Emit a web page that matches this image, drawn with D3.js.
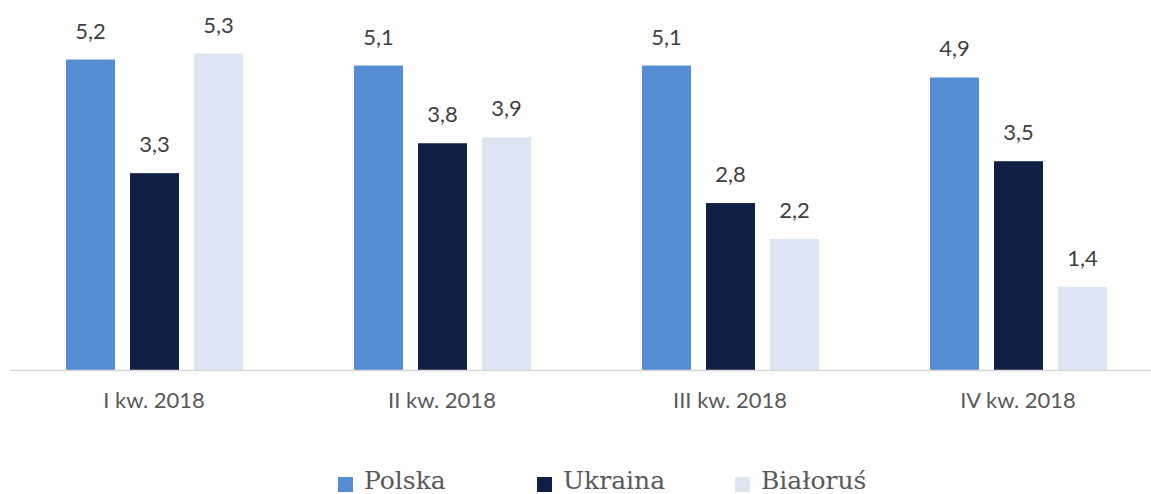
<!DOCTYPE html>
<html>
<head>
<meta charset="utf-8">
<script src="https://cdn.jsdelivr.net/npm/d3@7"></script>
<style>
  html, body { margin: 0; padding: 0; background: #fff; }
  svg { display: block; }
</style>
</head>
<body>
<svg id="chart" width="1151" height="494"></svg>
<script>
const categories = ["I kw. 2018", "II kw. 2018", "III kw. 2018", "IV kw. 2018"];
const seriesNames = ["Polska", "Ukraina", "Białoruś"];
const polska = [5.2, 5.1, 5.1, 4.9];
const ukraina = [3.3, 3.8, 2.8, 3.5];
const bialorus = [5.3, 3.9, 2.2, 1.4];
const seriesColors = ["#558ED5", "#111F45", "#DCE6F2"];

const seriesValues = [polska, ukraina, bialorus];
const data = categories.map((c, i) => ({
  cat: c,
  vals: seriesNames.map((s, j) => ({ s, v: seriesValues[j][i], color: seriesColors[j] }))
}));

const svg = d3.select("#chart");
const baseY = 370.5;

const x0 = d3.scaleBand().domain(categories).range([10, 1162]).paddingInner(0).paddingOuter(0);
const x1 = d3.scaleBand().domain(seriesNames).range([56, 233]).paddingInner(15 / 64).paddingOuter(0);
const y = d3.scaleLinear().domain([0, 1]).range([baseY, baseY - 59.8]);

const groups = svg.selectAll("g.grp").data(data).enter().append("g")
  .attr("class", "grp")
  .attr("transform", d => `translate(${x0(d.cat)},0)`);

groups.selectAll("rect").data(d => d.vals).enter().append("rect")
  .attr("x", d => x1(d.s))
  .attr("width", x1.bandwidth())
  .attr("y", d => y(d.v))
  .attr("height", d => y(0) - y(d.v))
  .attr("fill", d => d.color);

groups.selectAll("text.val").data(d => d.vals).enter().append("text")
  .attr("class", "val")
  .attr("x", d => x1(d.s) + x1.bandwidth() / 2)
  .attr("y", d => y(d.v) - 21)
  .attr("text-anchor", "middle")
  .attr("font-family", "Lato, 'Open Sans', sans-serif")
  .attr("font-size", 22)
  .attr("fill", "#404040")
  .text(d => d3.format(".1f")(d.v).replace(".", ","));

// axis
const axis = d3.axisBottom(x0).tickSize(0).tickPadding(22);
const ax = svg.append("g").attr("transform", `translate(0,${baseY})`).call(axis);
ax.select(".domain").attr("stroke", "#D9D9D9").attr("stroke-width", 1.5).attr("d", "M10,0H1151");
ax.selectAll(".tick text")
  .attr("font-family", "Lato, 'Open Sans', sans-serif")
  .attr("font-size", 22)
  .attr("fill", "#595959");

// legend
const legendX = [338, 537, 735];
const lg = svg.append("g");
seriesNames.forEach((s, i) => {
  lg.append("rect").attr("x", legendX[i]).attr("y", 477).attr("width", 15).attr("height", 15).attr("fill", seriesColors[i]);
  lg.append("text").attr("x", legendX[i] + 26).attr("y", 489)
    .attr("font-family", "'DejaVu Serif', serif")
    .attr("font-size", 25)
    .attr("fill", "#595959")
    .text(s);
});
</script>
</body>
</html>
